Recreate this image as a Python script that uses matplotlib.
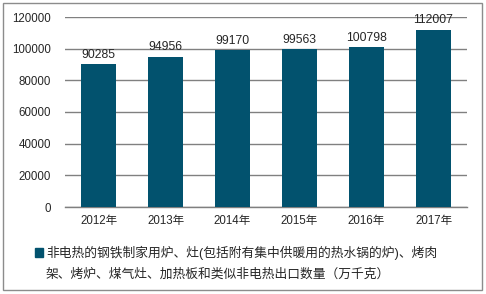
import matplotlib
matplotlib.use("Agg")
import matplotlib.pyplot as plt
from matplotlib.patches import Rectangle

plt.rcParams['font.family'] = ['Liberation Sans', 'Noto Sans CJK SC', 'DejaVu Sans']

years = ["2012年", "2013年", "2014年", "2015年", "2016年", "2017年"]
values = [90285, 94956, 99170, 99563, 100798, 112007]
yticks = [0, 20000, 40000, 60000, 80000, 100000, 120000]
legend_label = "非电热的钢铁制家用炉、灶(包括附有集中供暖用的热水锅的炉)、烤肉\n架、烤炉、煤气灶、加热板和类似非电热出口数量（万千克）"

W, H = 486, 294
fig = plt.figure(figsize=(W / 100, H / 100), dpi=100)
ax = fig.add_axes([65 / W, 1 - 207 / H, (467 - 65) / W, (207 - 17) / H])

bar_color = "#02526E"
x = range(len(years))
bars = ax.bar(x, values, width=0.51, color=bar_color, zorder=3)
for xi, v in zip(x, values):
    ax.annotate(str(v), (xi, v), xytext=(0, 2.5), textcoords="offset points",
                ha="center", va="bottom", fontsize=8.7, color="#262626", zorder=4)

ax.set_xlim(-0.5, len(years) - 0.5)
ax.set_ylim(0, 120000)
ax.set_yticks(yticks)
ax.set_yticklabels([str(t) for t in yticks])
ax.set_xticks(list(x))
ax.set_xticklabels(years)
ax.tick_params(axis="both", length=0, labelsize=8.3, colors="#262626")
ax.tick_params(axis="y", pad=10)
ax.tick_params(axis="x", pad=6)
ax.grid(axis="y", color="#808080", linewidth=1.0, zorder=0)
for s in ["top", "right", "left"]:
    ax.spines[s].set_visible(False)
ax.spines["bottom"].set_color("#7f7f7f")
ax.spines["bottom"].set_linewidth(1.0)

# legend (manual)
fig.patches.append(Rectangle((35 / W, 1 - 257 / H), 8 / W, 9 / H,
                             transform=fig.transFigure, color=bar_color))
lines = legend_label.split("\n")
fig.text(46 / W, 1 - 253 / H, lines[0], fontsize=9.2, va="center", ha="left", color="#262626")
fig.text(46 / W, 1 - 275 / H, lines[1], fontsize=9.2, va="center", ha="left", color="#262626")

# outer border
fig.patches.append(Rectangle((2.5 / W, 1 - 289.5 / H), 479 / W, 286.5 / H,
                             transform=fig.transFigure, fill=False,
                             edgecolor="#8c8c8c", linewidth=1.0))

fig.savefig("out.png", dpi=100)
